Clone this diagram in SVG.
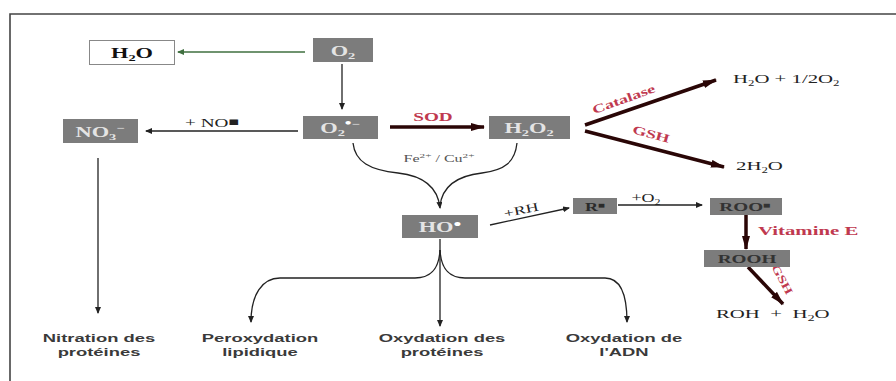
<svg xmlns="http://www.w3.org/2000/svg" width="896" height="381" viewBox="0 0 896 381">
<style>
.box{fill:#7c7c7c}
.bt{font-family:"Liberation Serif",serif;font-weight:bold;fill:#e4e4e4;text-anchor:middle}
.st{font-family:"Liberation Serif",serif;fill:#222}
.red{font-family:"Liberation Serif",serif;font-weight:bold;fill:#c0394f}
.lab{font-family:"Liberation Sans",Arial,sans-serif;font-weight:bold;font-size:11.5px;fill:#3a3a3a;text-anchor:middle}
.thin{fill:none;stroke:#222;stroke-width:1.3}
.thick{fill:none;stroke:#2a0606;stroke-width:3.5}
</style>
<defs>
<marker id="a" markerUnits="userSpaceOnUse" markerWidth="8" markerHeight="8" refX="6" refY="3" orient="auto"><path d="M0,0 L7,3 L0,6 z" fill="#222"/></marker>
<marker id="g" markerUnits="userSpaceOnUse" markerWidth="8" markerHeight="8" refX="6" refY="3" orient="auto"><path d="M0,0 L7,3 L0,6 z" fill="#3f6f3f"/></marker>
<marker id="b" markerUnits="userSpaceOnUse" markerWidth="16" markerHeight="10" refX="13" refY="4" orient="auto"><path d="M0,0 L14,4 L0,8 z" fill="#2a0606"/></marker>
</defs>
<rect width="896" height="381" fill="#fff"/>
<path d="M10,381 L10,14 L896,14" fill="none" stroke="#444" stroke-width="1.6"/>

<g id="connectors">
<path d="M305,52 L178,52" fill="none" stroke="#3f6f3f" stroke-width="1.3" marker-end="url(#g)"/>
<path class="thin" d="M342,64 L342,109" marker-end="url(#a)"/>
<path class="thin" d="M298,131 L146,131" marker-end="url(#a)"/>
<path class="thin" d="M98,158 L98,313" marker-end="url(#a)"/>
<path class="thick" d="M390,127 L484,127" marker-end="url(#b)"/>
<path class="thick" d="M585,125 L716,80" marker-end="url(#b)"/>
<path class="thick" d="M585,131 L724,167" marker-end="url(#b)"/>
<path class="thin" d="M490,225 L569,208" marker-end="url(#a)"/>
<path class="thin" d="M618,205 L702,205" marker-end="url(#a)"/>
<path class="thick" d="M746,215 L746,249" marker-end="url(#b)"/>
<path class="thick" d="M748,267 L783,304" marker-end="url(#b)"/>
<path class="thin" d="M353,143 C355,162 370,170 398,173 C425,176 438,188 440,208" marker-end="url(#a)"/>
<path class="thin" d="M517,143 C515,162 505,170 482,173 C455,176 442,188 440,206"/>
<path class="thin" d="M440,239 L440,326" marker-end="url(#a)"/>
<path class="thin" d="M440,250 C439,268 432,278 415,278 L280,278 C262,278 251,295 251,322" marker-end="url(#a)"/>
<path class="thin" d="M440,250 C441,268 448,278 465,278 L605,278 C620,278 627,292 627,322" marker-end="url(#a)"/>
</g>

<g id="labels">
<text class="red" font-size="12" transform="translate(433,121) scale(1.6 1)" text-anchor="middle">SOD</text>
<text class="st" font-size="12" transform="translate(212,127) scale(1.6 1)" text-anchor="middle">+ NO<tspan font-family="DejaVu Sans" font-size="7" dy="-3">■</tspan></text>
<text class="st" font-size="10" transform="translate(439,162) scale(1.6 1)" text-anchor="middle" style="fill:#555">Fe<tspan font-size="7" dy="-4">2+</tspan><tspan dy="4"> / Cu</tspan><tspan font-size="7" dy="-4">2+</tspan></text>
<text class="red" font-size="12" transform="translate(625,103) rotate(-20) scale(1.5 1)" text-anchor="middle">Catalase</text>
<text class="red" font-size="12" transform="translate(650,138) rotate(15) scale(1.5 1)" text-anchor="middle">GSH</text>
<text class="st" font-size="12" transform="translate(522,214) rotate(-12) scale(1.5 1)" text-anchor="middle">+RH</text>
<text class="st" font-size="12" transform="translate(646,202) scale(1.5 1)" text-anchor="middle">+O<tspan font-size="8" dy="3">2</tspan></text>
<text class="red" font-size="13" transform="translate(758,235) scale(1.6 1)">Vitamine E</text>
<text class="red" font-size="11" transform="translate(779,281) rotate(62) scale(1.4 1)" text-anchor="middle">GSH</text>
</g>

<g id="n-h2o-top"><rect x="89.5" y="40.5" width="85" height="24" fill="#fff" stroke="#888" stroke-width="1"/><text class="st" font-weight="bold" font-size="14" transform="translate(132,58) scale(1.6 1)" text-anchor="middle" style="fill:#111">H<tspan font-size="9" dy="3">2</tspan><tspan dy="-3">O</tspan></text></g>
<g id="n-o2"><rect class="box" x="313" y="38" width="60" height="24"/><text class="bt" font-size="14" transform="translate(343,56) scale(1.6 1)">O<tspan font-size="9" dy="3">2</tspan></text></g>
<g id="n-o2rad"><rect class="box" x="303" y="116" width="75" height="23"/><text class="bt" font-size="14" transform="translate(340,133) scale(1.6 1)">O<tspan font-size="9" dy="3">2</tspan><tspan font-size="12" dy="-9" style="fill:#fff">•</tspan><tspan font-size="9">−</tspan></text></g>
<g id="n-no3"><rect class="box" x="63" y="119" width="75" height="24"/><text class="bt" font-size="14" transform="translate(100,137) scale(1.6 1)">NO<tspan font-size="9" dy="3">3</tspan><tspan font-size="9" dy="-9">−</tspan></text></g>
<g id="n-h2o2"><rect class="box" x="489" y="116" width="81" height="23"/><text class="bt" font-size="14" transform="translate(529,133) scale(1.6 1)">H<tspan font-size="9" dy="3">2</tspan><tspan dy="-3">O</tspan><tspan font-size="9" dy="3">2</tspan></text></g>
<g id="n-ho"><rect class="box" x="402" y="215" width="76" height="23"/><text class="bt" font-size="14" transform="translate(440,232) scale(1.6 1)">HO<tspan font-size="14" dy="-3" style="fill:#fff">•</tspan></text></g>
<g id="n-r"><rect class="box" x="573" y="198" width="44" height="16"/><text class="bt" font-size="12" transform="translate(595,211) scale(1.5 1)" style="fill:#2a2a2a">R<tspan font-family="DejaVu Sans" font-size="5" dy="-4">■</tspan></text></g>
<g id="n-roo"><rect class="box" x="710" y="198" width="72" height="17"/><text class="bt" font-size="12" transform="translate(745,211) scale(1.6 1)" style="fill:#333">ROO<tspan font-family="DejaVu Sans" font-size="5" dy="-4">■</tspan></text></g>
<g id="n-rooh"><rect class="box" x="704" y="250" width="86" height="17"/><text class="bt" font-size="12" transform="translate(747,263) scale(1.6 1)" style="fill:#333">ROOH</text></g>

<g id="n-h2o-half"><text class="st" font-size="13" transform="translate(733,83) scale(1.6 1)">H<tspan font-size="8" dy="3">2</tspan><tspan dy="-3">O + 1/2O</tspan><tspan font-size="8" dy="3">2</tspan></text></g>
<g id="n-2h2o"><text class="st" font-size="13" transform="translate(736,170) scale(1.6 1)">2H<tspan font-size="8" dy="3">2</tspan><tspan dy="-3">O</tspan></text></g>
<g id="n-roh"><text class="st" font-size="13" transform="translate(716,318) scale(1.6 1)" xml:space="preserve">ROH  +  H<tspan font-size="9" dy="3">2</tspan><tspan dy="-3">O</tspan></text></g>

<g id="n-nitration"><text class="lab" transform="translate(99,342) scale(1.6 1)">Nitration des</text><text class="lab" transform="translate(99,356) scale(1.6 1)">protéines</text></g>
<g id="n-perox"><text class="lab" transform="translate(260,342) scale(1.6 1)">Peroxydation</text><text class="lab" transform="translate(260,356) scale(1.6 1)">lipidique</text></g>
<g id="n-oxprot"><text class="lab" transform="translate(442,342) scale(1.6 1)">Oxydation des</text><text class="lab" transform="translate(442,356) scale(1.6 1)">protéines</text></g>
<g id="n-oxadn"><text class="lab" transform="translate(624,342) scale(1.6 1)">Oxydation de</text><text class="lab" transform="translate(624,356) scale(1.6 1)">l'ADN</text></g>
</svg>
